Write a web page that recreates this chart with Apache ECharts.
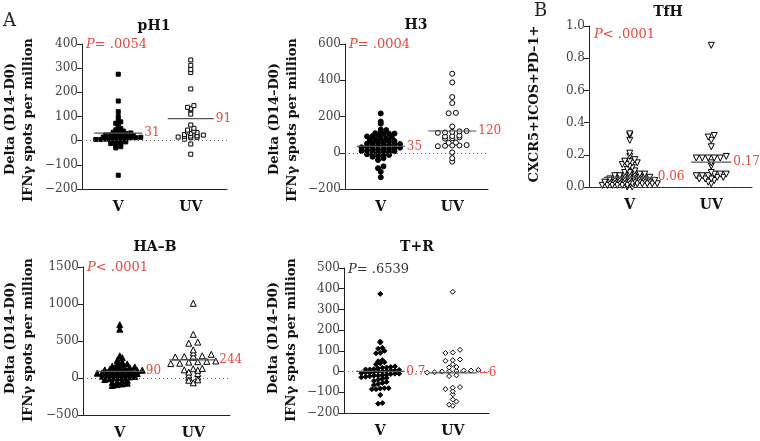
<!DOCTYPE html>
<html>
<head>
<meta charset="utf-8">
<script src="https://cdn.jsdelivr.net/npm/echarts@6/dist/echarts.min.js"></script>
<style>
html, body { margin: 0; padding: 0; background: #fff; }
#chart { width: 760px; height: 441px; }
</style>
</head>
<body>
<div id="chart"></div>
<script>
// groups on every panel
var categories = ['V', 'UV'];

// pH1: delta IFNg spots per million
var pH1V = [275, 164, 120, 100, 85, 78, 72, 65, 58, 50, 45, 40, 38, 35, 32, 30, 28, 26, 25, 24, 22, 20, 20, 18, 17,
    15, 15, 14, 12, 12, 10, 10, 8, 8, 6, 5, 5, 3, 2, 0, -2, -5, -8, -10, -12, -15, -20, -25, -30, -143];
var pH1UV = [334, 312, 294, 282, 214, 145, 138, 132, 128, 110, 65, 51, 44, 40, 36, 33, 30, 25, 23, 20, 19, 18, 15,
    14, 12, 6, -14, -56];
var pH1Mean = [31, 91];
var pH1Ticks = [-200, 400, 100];

// H3
var h3V = [217, 172, 160, 128, 125, 110, 108, 106, 105, 104, 100, 92, 90, 85, 80, 78, 75, 70, 65, 60, 58, 55, 52, 50,
    48, 45, 42, 40, 38, 35, 32, 30, 28, 25, 22, 20, 18, 15, 12, 10, 8, 5, 2, 0, -3, -8, -12, -15, -18, -22, -30, -40,
    -75, -85, -105, -135];
var h3UV = [436, 388, 307, 274, 220, 218, 145, 120, 118, 115, 112, 110, 95, 92, 90, 85, 80, 78, 56, 55, 42, 40, 40,
    38, 36, 2, -30, -49];
var h3Mean = [35, 120];
var h3Ticks = [-200, 600, 200];

// TfH: CXCR5+ICOS+PD-1+
var tfhV = [0.33, 0.32, 0.29, 0.21, 0.19, 0.17, 0.16, 0.16, 0.15, 0.15, 0.14, 0.14, 0.13, 0.12, 0.11, 0.10, 0.09, 0.09,
    0.08, 0.08, 0.08, 0.07, 0.07, 0.07, 0.07, 0.06, 0.06, 0.06, 0.06, 0.05, 0.05, 0.05, 0.05, 0.05, 0.04, 0.04, 0.04,
    0.04, 0.04, 0.03, 0.03, 0.03, 0.03, 0.03, 0.03, 0.02, 0.02, 0.02, 0.02, 0.02, 0.02, 0.01, 0.01, 0.01, 0.01, 0.01,
    0.01, 0.00, 0.00];
var tfhUV = [0.88, 0.32, 0.31, 0.29, 0.25, 0.19, 0.18, 0.18, 0.18, 0.18, 0.18, 0.15, 0.13, 0.09, 0.08, 0.08, 0.08,
    0.07, 0.07, 0.07, 0.06, 0.06, 0.05, 0.05, 0.05, 0.04, 0.03, 0.02];
var tfhMean = [0.06, 0.155];
var tfhTicks = [0, 1, 0.2];

// HA-B
var habV = [720, 660, 300, 275, 240, 215, 200, 190, 180, 170, 160, 150, 140, 130, 125, 120, 115, 110, 105, 100, 100,
    95, 90, 85, 80, 75, 70, 65, 60, 55, 50, 45, 40, 35, 30, 25, 20, 15, 10, 5, 0, -10, -20, -30, -40, -50, -60, -70,
    -80, -90, -100];
var habUV = [1010, 590, 485, 470, 380, 340, 320, 300, 295, 290, 285, 280, 230, 225, 220, 215, 200, 195, 130, 125, 110,
    105, 80, 60, 40, 15, 10, -25, -30, -65];
var habMean = [90, 244];
var habTicks = [-500, 1500, 500];

// T+R
var trV = [375, 145, 140, 115, 110, 100, 90, 88, 55, 50, 45, 40, 35, 25, 22, 20, 18, 15, 12, 10, 10, 8, 5, 5, 2, 0, 0,
    -2, -5, -5, -8, -10, -10, -12, -15, -18, -20, -20, -22, -25, -28, -30, -35, -40, -45, -50, -55, -60, -65, -80, -80,
    -82, -85, -85, -113, -152, -155];
var trUV = [385, 105, 92, 90, 58, 55, 52, 35, 22, 20, 8, 5, 5, 3, 2, 0, -3, -5, -18, -22, -75, -78, -85, -95, -110,
    -135, -145, -160, -165];
var trMean = [0.7, -6];
var trTicks = [-200, 500, 100];

var titles = ['pH1', 'H3', 'TfH', 'HA\u2013B', 'T+R'];
var meanTexts = [['31', '91'], ['35', '120'], ['0.06', '0.17'], ['90', '244'], ['0.7', '\u22126']];
var pTexts = ['= .0054', '= .0004', '< .0001', '< .0001', '= .6539'];

var RED = '#e8473d';
var FONT = 'DejaVu Serif';

var panels = [
    {v: pH1V, uv: pH1UV, mean: pH1Mean, ticks: pH1Ticks, grid: {left: 82, top: 44, width: 145, height: 145},
        symbol: 'rect', size: 4, rot: 0, vFill: '#000', gap: [5, 6.3], rowH: 2.3, half: [24, 23],
        titleXY: [154, 26], pXY: [86, 45], pColor: RED, yLab: [[11, 119], [29, 120]], digits: 0},
    {v: h3V, uv: h3UV, mean: h3Mean, ticks: h3Ticks, grid: {left: 345, top: 44, width: 143, height: 145},
        symbol: 'circle', size: 5, rot: 0, vFill: '#000', gap: [5.5, 7.2], rowH: 3.5, half: [24, 24],
        titleXY: [416, 25], pXY: [349, 45], pColor: RED, yLab: [[275, 119], [293, 120]], digits: 0},
    {v: tfhV, uv: tfhUV, mean: tfhMean, ticks: tfhTicks, grid: {left: 589, top: 26, width: 163, height: 161},
        symbol: 'triangle', size: 6, rot: 180, vFill: '#fff', gap: [5, 6], rowH: 3, half: [26, 20],
        titleXY: [668, 12], pXY: [594, 35], pColor: RED, yLab: [[535, 104]], digits: 1},
    {v: habV, uv: habUV, mean: habMean, ticks: habTicks, grid: {left: 83, top: 267, width: 147, height: 148},
        symbol: 'triangle', size: 6, rot: 0, vFill: '#000', gap: [5, 9], rowH: 3.2, half: [24, 24],
        titleXY: [155, 247], pXY: [87, 268], pColor: RED, yLab: [[11, 338], [29, 340]], digits: 0},
    {v: trV, uv: trUV, mean: trMean, ticks: trTicks, grid: {left: 344, top: 268, width: 145, height: 145},
        symbol: 'diamond', size: 5, rot: 0, vFill: '#000', gap: [4.2, 7.3], rowH: 4, half: [24, 24],
        titleXY: [417, 247], pXY: [348, 270], pColor: '#333', yLab: [[274, 338], [292, 340]], digits: 0}
];

// prism-like dot plot: points in the same row are spread evenly around the group centre
function swarm(vals, centre, pxPerY, unitPerPxX, gap, rowH) {
    var sorted = vals.slice().sort(function (a, b) { return a - b; });
    var rows = {};
    sorted.forEach(function (v) {
        var k = Math.round(v * pxPerY / rowH);
        (rows[k] = rows[k] || []).push(v);
    });
    var out = [];
    Object.keys(rows).forEach(function (k) {
        var r = rows[k];
        r.forEach(function (v, i) {
            out.push([centre + (i - (r.length - 1) / 2) * gap * unitPerPxX, v]);
        });
    });
    return out;
}

var grids = [], xAxes = [], yAxes = [], series = [], graphics = [];

panels.forEach(function (p, i) {
    grids.push(p.grid);
    var pxPerY = p.grid.height / (p.ticks[1] - p.ticks[0]);
    var unitPerPxX = 2 / p.grid.width;

    xAxes.push({
        type: 'category', gridIndex: i, data: categories,
        axisLine: {onZero: false, lineStyle: {color: '#222', width: 1}},
        axisTick: {alignWithLabel: true, length: 5, lineStyle: {color: '#222'}},
        axisLabel: {color: '#111', fontFamily: FONT, fontWeight: 'bold', fontSize: 14, margin: 11}
    });
    xAxes.push({type: 'value', gridIndex: i, min: -0.5, max: 1.5, show: false});
    yAxes.push({
        type: 'value', gridIndex: i, min: p.ticks[0], max: p.ticks[1], interval: p.ticks[2],
        axisLine: {show: true, onZero: false, lineStyle: {color: '#222', width: 1}},
        axisTick: {show: true, length: 5, lineStyle: {color: '#222'}},
        splitLine: {show: false},
        axisLabel: {
            color: '#444', fontFamily: FONT, fontSize: 12, margin: 4,
            formatter: function (val) { return val.toFixed(p.digits).replace('-', '\u2212'); }
        }
    });

    [p.v, p.uv].forEach(function (vals, g) {
        var filled = g === 0 ? p.vFill : '#fff';
        var s = {
            type: 'scatter', xAxisIndex: 2 * i + 1, yAxisIndex: i,
            symbol: p.symbol, symbolSize: p.size, symbolRotate: p.rot,
            itemStyle: {color: filled, borderColor: '#000', borderWidth: 1, opacity: 1},
            data: swarm(vals, g, pxPerY, unitPerPxX, p.gap[g], p.rowH),
            z: 3
        };
        if (g === 0) {
            s.markLine = {
                silent: true, symbol: 'none', label: {show: false},
                lineStyle: {type: [1, 3], color: '#666', width: 1},
                data: [{yAxis: 0}]
            };
        }
        series.push(s);

        var half = p.half[g] * unitPerPxX;
        series.push({
            type: 'line', xAxisIndex: 2 * i + 1, yAxisIndex: i,
            data: [[g - half, p.mean[g]], [g + half, p.mean[g]]],
            showSymbol: false, symbol: 'none',
            lineStyle: {color: '#555', width: 1.2},
            endLabel: {show: true, formatter: meanTexts[i][g], color: RED, fontFamily: FONT, fontSize: 12, distance: 2},
            z: 4
        });
    });

    graphics.push({
        type: 'text', x: p.titleXY[0], y: p.titleXY[1],
        style: {text: titles[i], fill: '#111', font: 'bold 14px "' + FONT + '"', align: 'center', verticalAlign: 'middle'}
    });
    graphics.push({
        type: 'text', x: p.pXY[0], y: p.pXY[1],
        style: {
            text: '{i|P}' + pTexts[i], fill: p.pColor, font: '13px "' + FONT + '"', verticalAlign: 'middle',
            rich: {i: {fontStyle: 'italic', fontFamily: FONT, fontSize: 13, fill: p.pColor}}
        }
    });
});

// y axis names
var yNames = [
    ['Delta (D14\u2013D0)', 'IFN\u03b3 spots per million'],
    ['Delta (D14\u2013D0)', 'IFN\u03b3 spots per million'],
    ['CXCR5+ICOS+PD\u20131+'],
    ['Delta (D14\u2013D0)', 'IFN\u03b3 spots per million'],
    ['Delta (D14\u2013D0)', 'IFN\u03b3 spots per million']
];
panels.forEach(function (p, i) {
    yNames[i].forEach(function (t, j) {
        graphics.push({
            type: 'text', x: p.yLab[j][0], y: p.yLab[j][1], rotation: Math.PI / 2,
            style: {text: t, fill: '#111', font: 'bold 13px "' + FONT + '"', align: 'center', verticalAlign: 'middle'}
        });
    });
});

graphics.push({type: 'text', x: 3, y: 21, style: {text: 'A', fill: '#222', font: '18px "' + FONT + '"', verticalAlign: 'middle'}});
graphics.push({type: 'text', x: 534, y: 11, style: {text: 'B', fill: '#222', font: '18px "' + FONT + '"', verticalAlign: 'middle'}});

var chart = echarts.init(document.getElementById('chart'));
chart.setOption({
    backgroundColor: '#fff',
    animation: false,
    grid: grids,
    xAxis: xAxes,
    yAxis: yAxes,
    series: series,
    graphic: graphics
});
</script>
</body>
</html>
